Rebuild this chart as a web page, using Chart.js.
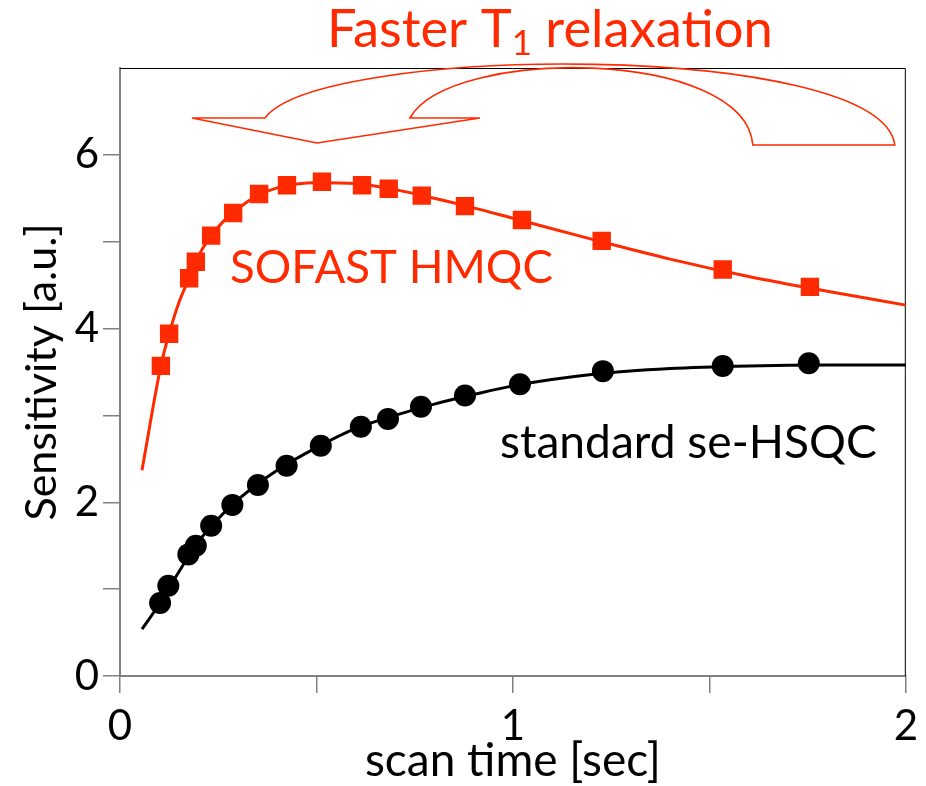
<!DOCTYPE html>
<html>
<head>
<meta charset="utf-8">
<script src="https://cdn.jsdelivr.net/npm/chart.js@4.4.1/dist/chart.umd.min.js"></script>
<style>
  html, body { margin: 0; background: #fff; }
  #wrap { width: 926px; height: 786px; }
</style>
</head>
<body>
<div id="wrap"><canvas id="chart"></canvas></div>
<script>
// SOFAST HMQC measured points
const hmqcTime   = [0.104, 0.125, 0.176, 0.193, 0.232, 0.288, 0.354, 0.425, 0.514, 0.616, 0.684, 0.768, 0.878, 1.023, 1.226, 1.534, 1.756];
const hmqcSignal = [3.57, 3.94, 4.58, 4.77, 5.07, 5.33, 5.55, 5.65, 5.69, 5.65, 5.61, 5.53, 5.41, 5.25, 5.01, 4.68, 4.48];
// SOFAST HMQC fitted curve
const hmqcFitTime = [0.056, 0.104, 0.125, 0.15, 0.176, 0.2, 0.25, 0.3, 0.35, 0.4, 0.5, 0.6, 0.7, 0.8, 0.9, 1.0, 1.2, 1.4, 1.6, 1.8, 2.0];
const hmqcFit     = [2.37, 3.57, 3.94, 4.30, 4.58, 4.84, 5.17, 5.38, 5.53, 5.62, 5.68, 5.67, 5.60, 5.50, 5.39, 5.27, 5.03, 4.80, 4.60, 4.43, 4.27];

// standard se-HSQC measured points
const hsqcTime   = [0.102, 0.123, 0.174, 0.193, 0.232, 0.286, 0.351, 0.424, 0.511, 0.613, 0.682, 0.766, 0.878, 1.018, 1.229, 1.534, 1.753];
const hsqcSignal = [0.84, 1.04, 1.40, 1.50, 1.73, 1.97, 2.20, 2.42, 2.65, 2.87, 2.96, 3.10, 3.23, 3.36, 3.51, 3.57, 3.60];
// standard se-HSQC fitted curve
const hsqcFitTime = [0.056, 0.102, 0.15, 0.2, 0.25, 0.3, 0.4, 0.5, 0.6, 0.7, 0.8, 0.9, 1.0, 1.2, 1.4, 1.6, 1.8, 2.0];
const hsqcFit     = [0.54, 0.84, 1.20, 1.55, 1.81, 2.03, 2.37, 2.63, 2.85, 3.00, 3.13, 3.24, 3.34, 3.47, 3.54, 3.57, 3.58, 3.58];

const xLabelTicks = [0, 1, 2];
const yLabelTicks = [0, 2, 4, 6];

const red = '#ff2a00';
const axisGray = '#808080';
const fontFamily = "'Comic Sans MS', Lato, sans-serif";

function pts(xs, ys) { return xs.map((x, i) => ({ x: x, y: ys[i] })); }

// frame, arrow and text annotations
const overlay = {
  id: 'overlay',
  beforeDatasetsDraw(chart) {
    const { ctx, chartArea: a } = chart;
    ctx.save();
    ctx.strokeStyle = '#000';
    ctx.lineWidth = 1;
    ctx.beginPath();
    ctx.moveTo(a.left, a.top + 0.5);
    ctx.lineTo(a.right - 0.5, a.top + 0.5);
    ctx.lineTo(a.right - 0.5, a.bottom);
    ctx.stroke();
    ctx.restore();
  },
  afterDraw(chart) {
    const { ctx, chartArea: a } = chart;
    // map reference-picture pixels onto the chart area
    const P = (px, py) => [a.left + (px - 120) * a.width / 786, a.top + (py - 68) * a.height / 608];
    ctx.save();

    // curved arrow outline
    ctx.strokeStyle = red;
    ctx.lineWidth = 1.6;
    ctx.beginPath();
    ctx.moveTo(...P(317, 143));
    ctx.lineTo(...P(192, 118));
    ctx.lineTo(...P(265, 118));
    ctx.bezierCurveTo(...P(320, 44), ...P(880, 40), ...P(895, 145));
    ctx.lineTo(...P(753, 145));
    ctx.bezierCurveTo(...P(745, 48), ...P(450, 46), ...P(410, 118));
    ctx.lineTo(...P(480, 118));
    ctx.closePath();
    ctx.stroke();

    const fitText = (txt, w, size) => {
      ctx.font = size + 'px ' + fontFamily;
      const m = ctx.measureText(txt).width;
      return size * w / m;
    };

    ctx.textBaseline = 'middle';
    ctx.textAlign = 'left';

    // SOFAST HMQC label
    let s = fitText('SOFAST HMQC', 323, 40);
    ctx.font = s + 'px ' + fontFamily;
    ctx.fillStyle = red;
    ctx.fillText('SOFAST HMQC', ...P(230, 268));

    // standard se-HSQC label
    s = fitText('standard se-HSQC', 377, 36);
    ctx.font = s + 'px ' + fontFamily;
    ctx.fillStyle = '#000';
    ctx.fillText('standard se-HSQC', ...P(500, 443));

    // title with subscript
    const parts = ['Faster T', '1', ' relaxation'];
    const big = 42, small = 28;
    ctx.font = big + 'px ' + fontFamily;
    let w = ctx.measureText(parts[0]).width + ctx.measureText(parts[2]).width;
    ctx.font = small + 'px ' + fontFamily;
    w += ctx.measureText(parts[1]).width;
    const k = 446 / w;
    let [tx, ty] = P(327, 30);
    ctx.fillStyle = red;
    ctx.font = (big * k) + 'px ' + fontFamily;
    ctx.fillText(parts[0], tx, ty);
    tx += ctx.measureText(parts[0]).width;
    ctx.font = (small * k) + 'px ' + fontFamily;
    ctx.fillText(parts[1], tx, ty + 14);
    tx += ctx.measureText(parts[1]).width;
    ctx.font = (big * k) + 'px ' + fontFamily;
    ctx.fillText(parts[2], tx, ty);

    ctx.restore();
  }
};

new Chart(document.getElementById('chart').getContext('2d'), {
  type: 'scatter',
  data: {
    datasets: [
      {
        label: 'SOFAST HMQC fit',
        type: 'line',
        data: pts(hmqcFitTime, hmqcFit),
        borderColor: red,
        borderWidth: 3,
        pointRadius: 0,
        cubicInterpolationMode: 'monotone',
        order: 3
      },
      {
        label: 'se-HSQC fit',
        type: 'line',
        data: pts(hsqcFitTime, hsqcFit),
        borderColor: '#000',
        borderWidth: 3,
        pointRadius: 0,
        cubicInterpolationMode: 'monotone',
        order: 4
      },
      {
        label: 'SOFAST HMQC',
        data: pts(hmqcTime, hmqcSignal),
        pointStyle: 'rect',
        pointRadius: 13,
        pointBorderWidth: 0,
        backgroundColor: red,
        order: 1
      },
      {
        label: 'standard se-HSQC',
        data: pts(hsqcTime, hsqcSignal),
        pointStyle: 'circle',
        pointRadius: 11,
        pointBorderWidth: 0,
        backgroundColor: '#000',
        order: 2
      }
    ]
  },
  options: {
    responsive: true,
    maintainAspectRatio: false,
    animation: false,
    layout: { padding: { top: 68, right: 20 } },
    plugins: {
      legend: { display: false },
      tooltip: { enabled: false }
    },
    scales: {
      x: {
        type: 'linear',
        min: 0,
        max: 2,
        afterFit: function(s) { s.height = 110; },
        border: { color: axisGray, width: 2 },
        grid: { drawOnChartArea: false, tickLength: 17, color: axisGray, lineWidth: 1.5 },
        ticks: {
          stepSize: 0.5,
          padding: 8,
          color: '#000',
          maxRotation: 0,
          font: { family: fontFamily, size: 42 },
          callback: function(v) { return xLabelTicks.includes(v) ? String(v) : ''; }
        },
        title: {
          display: true,
          text: 'scan time [sec]',
          color: '#000',
          font: { family: fontFamily, size: 46, lineHeight: 0.92 }
        }
      },
      y: {
        min: 0,
        max: 7,
        afterFit: function(s) { s.width = 120; },
        border: { color: axisGray, width: 2 },
        grid: { drawOnChartArea: false, tickLength: 17, color: axisGray, lineWidth: 1.5 },
        ticks: {
          stepSize: 1,
          padding: 4,
          color: '#000',
          font: { family: fontFamily, size: 42 },
          callback: function(v) {
            if (v === 7) return null;
            return yLabelTicks.includes(v) ? String(v) : '';
          }
        },
        title: {
          display: true,
          text: 'Sensitivity [a.u.]',
          color: '#000',
          font: { family: fontFamily, size: 43, lineHeight: 1.75 }
        }
      }
    }
  },
  plugins: [overlay]
});
</script>
</body>
</html>
